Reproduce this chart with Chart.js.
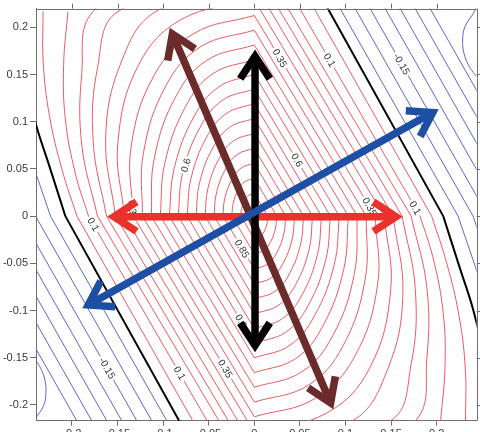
<!DOCTYPE html>
<html>
<head>
<meta charset="utf-8">
<script src="https://cdn.jsdelivr.net/npm/chart.js@4.4.1/dist/chart.umd.min.js"></script>
<style>
  html, body { margin: 0; padding: 0; background: #fff; }
  canvas { display: block; }
</style>
</head>
<body>
<canvas id="chart" width="480" height="432"></canvas>
<script>
// axis ticks
const xTicks = [-0.2, -0.15, -0.1, -0.05, 0, 0.05, 0.1, 0.15, 0.2];
const xTickLabels = ['-0.2', '-0.15', '-0.1', '-0.05', '0', '0.05', '0.1', '0.15', '0.2'];
const yTicks = [-0.2, -0.15, -0.1, -0.05, 0, 0.05, 0.1, 0.15, 0.2];
const yTickLabels = ['-0.2', '-0.15', '-0.1', '-0.05', '0', '0.05', '0.1', '0.15', '0.2'];

// contour levels, where each one crosses the x axis (crossX) and the y axis (crossY)
const levels = [0.95, 0.9, 0.85, 0.8, 0.75, 0.7, 0.65, 0.6, 0.55, 0.5, 0.45, 0.4, 0.35, 0.3,
  0.25, 0.2, 0.15, 0.1, 0.05, 0, -0.05, -0.1, -0.15, -0.2, -0.25, -0.3, -0.35];
const crossX = [0.0148, 0.0246, 0.0344, 0.0442, 0.054, 0.0639, 0.0737, 0.0835, 0.0933, 0.1032,
  0.113, 0.1228, 0.1326, 0.1425, 0.1523, 0.1621, 0.172, 0.1818, 0.1945, 0.2072,
  0.2235, 0.2399, 0.2563, 0.2728, 0.2892, 0.3057, 0.3221];
const crossY = [0.024, 0.04, 0.056, 0.0718, 0.0876, 0.1035, 0.1192, 0.1347, 0.1502, 0.1658,
  0.1813, 0.197, 0.2125, 0.229, 0.246, 0.263, 0.28, 0.303, 0.332, 0.36,
  0.38, 0.408, 0.436, 0.464, 0.492, 0.52, 0.548];

// lower right arc of each contour (x>0, y<0), in units of crossX and crossY
const arcX = [
  [0.94, 0.71, 0.42, 0], [0.94, 0.71, 0.42, 0], [0.94, 0.71, 0.42, 0], [0.94, 0.71, 0.42, 0],
  [0.94, 0.71, 0.42, 0], [0.94, 0.71, 0.42, 0], [0.94, 0.71, 0.42, 0], [0.94, 0.71, 0.42, 0],
  [0.94, 0.71, 0.42, 0], [0.95, 0.73, 0.44, 0], [0.97, 0.76, 0.46, 0], [0.99, 0.79, 0.48, 0],
  [1.02, 0.83, 0.5, 0], [1.05, 0.89, 0.56, 0], [1.07, 0.96, 0.708, 0], [1.09, 1.06, 0.922, 0],
  [1.1, 1.1, 1.028, 0.4], [1.08, 1.14, 1.15, 1.124], [1.085, 1.155, 1.19, 1.191],
  [1.088, 1.157, 1.22, 1.26],
  [1.06, 1.12, 1.18, 1.22], [1.06, 1.12, 1.18, 1.22], [1.06, 1.12, 1.18, 1.22], [1.06, 1.12, 1.18, 1.22],
  [1.06, 1.12, 1.18, 1.22], [1.06, 1.12, 1.18, 1.22], [1.06, 1.12, 1.18, 1.22]
];
const arcY = [
  [0.34, 0.7, 0.91, 1], [0.34, 0.7, 0.91, 1], [0.34, 0.7, 0.91, 1], [0.34, 0.7, 0.91, 1],
  [0.34, 0.7, 0.91, 1], [0.34, 0.7, 0.91, 1], [0.34, 0.7, 0.91, 1], [0.34, 0.7, 0.91, 1],
  [0.34, 0.7, 0.91, 1], [0.34, 0.7, 0.91, 1], [0.34, 0.7, 0.91, 1], [0.34, 0.7, 0.91, 1],
  [0.34, 0.7, 0.91, 1], [0.34, 0.7, 0.91, 1], [0.34, 0.66, 0.881, 1], [0.3, 0.6, 0.824, 1],
  [0.27, 0.54, 0.774, 1], [0.15, 0.34, 0.53, 0.715], [0.15, 0.32, 0.49, 0.653],
  [0.153, 0.2725, 0.42, 0.55],
  [0.1, 0.2, 0.3, 0.4], [0.1, 0.2, 0.3, 0.4], [0.1, 0.2, 0.3, 0.4], [0.1, 0.2, 0.3, 0.4],
  [0.1, 0.2, 0.3, 0.4], [0.1, 0.2, 0.3, 0.4], [0.1, 0.2, 0.3, 0.4]
];

// small closed -0.4 contour in the top right corner (mirrored in the bottom left)
const cornerX = [0.2439, 0.2401, 0.231, 0.2285, 0.2299, 0.2347, 0.2401, 0.2439];
const cornerY = [0.222, 0.2146, 0.2006, 0.1866, 0.1726, 0.1603, 0.1522, 0.148];

// inline contour labels
const labelText = ['0.35', '0.1', '-0.15', '0.6', '0.6', '0.85', '0.6', '0.35', '0.1', '-0.15', '0.1', '0.1', '0.35', '0.35'];
const labelX = [0.028, 0.0826, 0.1615, 0.0468, -0.075, -0.0135, -0.0146, -0.0318, -0.082, -0.1615, 0.1765, -0.1765, 0.1264, -0.1335];
const labelY = [0.1673, 0.1653, 0.1611, 0.0592, 0.054, -0.0345, -0.1112, -0.1616, -0.1664, -0.1611, 0.0088, -0.0088, 0.0099, 0.0067];
const labelAngle = [60, 60, 60, 60, -75, 60, 60, 60, 60, 60, 60, 60, 62, 84];

// double headed arrows: red, brown, black, blue
const arrowX1 = [-0.1605, -0.0924, 0.0008, -0.1878];
const arrowY1 = [-0.0006, 0.1988, 0.1757, -0.0972];
const arrowX2 = [0.162, 0.0863, 0.0008, 0.2014];
const arrowY2 = [-0.0006, -0.2037, -0.1434, 0.1128];
const arrowColor = ['#e8322b', '#6b2b2b', '#000000', '#1d4fa5'];

const RED = '#ee5a64', BLUE = '#5d68c8';

function lineStyle(v) {
  if (v > 0.001) return { borderColor: RED, borderWidth: 1 };
  if (v < -0.001) return { borderColor: BLUE, borderWidth: 1 };
  return { borderColor: '#000', borderWidth: 2 };
}

const datasets = [];
levels.forEach((v, i) => {
  const a = crossX[i], b = crossY[i];
  const st = lineStyle(v);
  const base = { showLine: true, pointRadius: 0, fill: false, ...st };
  // straight sides (upper right and lower left)
  datasets.push({ ...base, tension: 0, data: [{ x: 0, y: b }, { x: a, y: 0 }] });
  datasets.push({ ...base, tension: 0, data: [{ x: 0, y: -b }, { x: -a, y: 0 }] });
  // curved sides (lower right and upper left)
  const right = [{ x: a, y: 0 }], left = [{ x: -a, y: 0 }];
  arcX[i].forEach((X, k) => {
    right.push({ x: X * a, y: -arcY[i][k] * b });
    left.push({ x: -X * a, y: arcY[i][k] * b });
  });
  datasets.push({ ...base, tension: 0.4, data: right });
  datasets.push({ ...base, tension: 0.4, data: left });
});
datasets.push({ showLine: true, pointRadius: 0, tension: 0.4, borderColor: BLUE, borderWidth: 1,
  data: cornerX.map((x, k) => ({ x: x, y: cornerY[k] })) });
datasets.push({ showLine: true, pointRadius: 0, tension: 0.4, borderColor: BLUE, borderWidth: 1,
  data: cornerX.map((x, k) => ({ x: -x, y: -cornerY[k] })) });

function drawArrow(ctx, x1, y1, x2, y2, color) {
  const ang = Math.atan2(y2 - y1, x2 - x1);
  const inset = 6;
  const ax = x1 + inset * Math.cos(ang), ay = y1 + inset * Math.sin(ang);
  const bx = x2 - inset * Math.cos(ang), by = y2 - inset * Math.sin(ang);
  ctx.strokeStyle = color;
  ctx.lineWidth = 7.5;
  ctx.lineJoin = 'miter';
  ctx.miterLimit = 10;
  ctx.lineCap = 'butt';
  ctx.beginPath();
  ctx.moveTo(ax, ay);
  ctx.lineTo(bx, by);
  ctx.stroke();
  const L = 27, h = 0.58;
  [[ax, ay, ang], [bx, by, ang + Math.PI]].forEach(([tx, ty, a]) => {
    ctx.beginPath();
    ctx.moveTo(tx + L * Math.cos(a + h), ty + L * Math.sin(a + h));
    ctx.lineTo(tx, ty);
    ctx.lineTo(tx + L * Math.cos(a - h), ty + L * Math.sin(a - h));
    ctx.stroke();
  });
}

const overlay = {
  id: 'overlay',
  afterDatasetsDraw(chart) {
    const { ctx, scales: { x, y } } = chart;
    ctx.save();
    // contour labels, with a gap cut in the line
    ctx.font = '10px "Liberation Sans", Arial, sans-serif';
    ctx.textAlign = 'center';
    ctx.textBaseline = 'middle';
    labelText.forEach((t, i) => {
      const px = x.getPixelForValue(labelX[i]), py = y.getPixelForValue(labelY[i]);
      ctx.save();
      ctx.translate(px, py);
      ctx.rotate(labelAngle[i] * Math.PI / 180);
      const w = ctx.measureText(t).width;
      ctx.fillStyle = '#fff';
      ctx.fillRect(-w / 2 - 2, -4, w + 4, 8);
      ctx.fillStyle = '#333';
      ctx.fillText(t, 0, 0.5);
      ctx.restore();
    });
    // arrows
    arrowX1.forEach((_, i) => {
      drawArrow(ctx,
        x.getPixelForValue(arrowX1[i]), y.getPixelForValue(arrowY1[i]),
        x.getPixelForValue(arrowX2[i]), y.getPixelForValue(arrowY2[i]),
        arrowColor[i]);
    });
    ctx.restore();
  },
  afterDraw(chart) {
    // top and right side of the box, with outward ticks
    const { ctx, chartArea: ca, scales: { x, y } } = chart;
    ctx.save();
    ctx.strokeStyle = '#707070';
    ctx.lineWidth = 1;
    ctx.beginPath();
    ctx.moveTo(ca.left, Math.round(ca.top) + 0.5);
    ctx.lineTo(ca.right, Math.round(ca.top) + 0.5);
    ctx.moveTo(Math.round(ca.right) + 0.5, ca.top);
    ctx.lineTo(Math.round(ca.right) + 0.5, ca.bottom);
    xTicks.forEach(v => {
      const px = Math.round(x.getPixelForValue(v)) + 0.5;
      ctx.moveTo(px, ca.top);
      ctx.lineTo(px, ca.top - 5);
    });
    yTicks.forEach(v => {
      const py = Math.round(y.getPixelForValue(v)) + 0.5;
      ctx.moveTo(ca.right, py);
      ctx.lineTo(ca.right + 5, py);
    });
    ctx.stroke();
    ctx.restore();
  }
};

Chart.defaults.font.family = '"Liberation Sans", Arial, sans-serif';
Chart.defaults.font.size = 11;

new Chart(document.getElementById('chart'), {
  type: 'scatter',
  data: { datasets: datasets },
  options: {
    responsive: false,
    animation: false,
    devicePixelRatio: 1,
    events: [],
    layout: { padding: { top: 5, right: 3.3, left: 0, bottom: 0 } },
    plugins: { legend: { display: false }, tooltip: { enabled: false } },
    scales: {
      x: {
        type: 'linear', min: -0.2394, max: 0.2439,
        afterBuildTicks: s => { s.ticks = xTicks.map(v => ({ value: v })); },
        afterFit: s => { s.height = 11.3; },
        ticks: { callback: (v, i) => xTickLabels[i], autoSkip: false, maxRotation: 0, padding: 2, color: '#3a3a3a' },
        grid: { display: true, drawOnChartArea: false, drawTicks: true, tickLength: 5, color: '#707070' },
        border: { display: true, color: '#707070' }
      },
      y: {
        type: 'linear', min: -0.2167, max: 0.2198,
        afterBuildTicks: s => { s.ticks = yTicks.map(v => ({ value: v })); },
        afterFit: s => { s.width = 36; },
        ticks: { callback: (v, i) => yTickLabels[i], autoSkip: false, padding: 2, color: '#3a3a3a' },
        grid: { display: true, drawOnChartArea: false, drawTicks: true, tickLength: 6, color: '#707070' },
        border: { display: true, color: '#707070' }
      }
    }
  },
  plugins: [overlay]
});
</script>
</body>
</html>
